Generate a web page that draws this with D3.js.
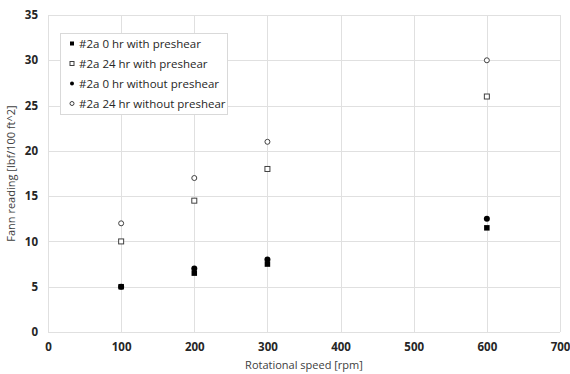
<!DOCTYPE html>
<html>
<head>
<meta charset="utf-8">
<script src="https://cdn.jsdelivr.net/npm/d3@7"></script>
<style>
  html, body { margin: 0; padding: 0; background: #fff; }
  svg { display: block; font-family: "Open Sans", "Noto Sans", sans-serif; }
</style>
</head>
<body>
<svg id="chart" width="570" height="374"></svg>
<script>
// Rotational speeds (rpm) at which the Fann readings were taken
const speeds = [100, 200, 300, 600];

// Fann readings (lbf/100 ft^2) for each test condition
const zeroHrPreshear = [5, 6.5, 7.5, 11.5];
const day24HrPreshear = [10, 14.5, 18, 26];
const zeroHrNoPreshear = [5, 7, 8, 12.5];
const day24HrNoPreshear = [12, 17, 21, 30];

const seriesNames = [
  "#2a 0 hr with preshear",
  "#2a 24 hr with preshear",
  "#2a 0 hr without preshear",
  "#2a 24 hr without preshear"
];

const xTicks = [0, 100, 200, 300, 400, 500, 600, 700];
const yTicks = [0, 5, 10, 15, 20, 25, 30, 35];

const xTitle = "Rotational speed [rpm]";
const yTitle = "Fann reading [lbf/100 ft^2]";

const series = [
  { name: seriesNames[0], values: zeroHrPreshear, shape: "square", fill: "#000" },
  { name: seriesNames[1], values: day24HrPreshear, shape: "square", fill: "#fff" },
  { name: seriesNames[2], values: zeroHrNoPreshear, shape: "circle", fill: "#000" },
  { name: seriesNames[3], values: day24HrNoPreshear, shape: "circle", fill: "#fff" }
];

const svg = d3.select("#chart");
const plot = { left: 48, right: 560, top: 15, bottom: 332 };

const x = d3.scaleLinear().domain([0, 700]).range([plot.left, plot.right]);
const y = d3.scaleLinear().domain([0, 35]).range([plot.bottom, plot.top]);

const gridColor = "#e0e0e0";

// Gridlines
svg.append("g")
  .selectAll("line.v")
  .data(xTicks)
  .join("line")
  .attr("x1", d => Math.round(x(d)) + 0.5)
  .attr("x2", d => Math.round(x(d)) + 0.5)
  .attr("y1", plot.top)
  .attr("y2", plot.bottom)
  .attr("stroke", gridColor)
  .attr("stroke-width", 1);

svg.append("g")
  .selectAll("line.h")
  .data(yTicks)
  .join("line")
  .attr("x1", plot.left)
  .attr("x2", plot.right)
  .attr("y1", d => Math.round(y(d)) + 0.5)
  .attr("y2", d => Math.round(y(d)) + 0.5)
  .attr("stroke", gridColor)
  .attr("stroke-width", 1);

// Axes (labels only; lines come from the grid)
const xAxis = svg.append("g")
  .attr("transform", `translate(0,${plot.bottom})`)
  .call(d3.axisBottom(x).tickValues(xTicks).tickSize(0).tickPadding(11));
const yAxis = svg.append("g")
  .attr("transform", `translate(${plot.left},0)`)
  .call(d3.axisLeft(y).tickValues(yTicks).tickSize(0).tickPadding(10));

[xAxis, yAxis].forEach(g => {
  g.select(".domain").remove();
  g.selectAll("text")
    .attr("font-family", "'Open Sans', 'Noto Sans', sans-serif")
    .attr("font-size", 11.5)
    .attr("font-weight", "bold")
    .attr("fill", "#262626");
});

// Axis titles
svg.append("text")
  .attr("x", (plot.left + plot.right) / 2)
  .attr("y", 369)
  .attr("text-anchor", "middle")
  .attr("font-size", 11)
  .attr("fill", "#404040")
  .text(xTitle);

svg.append("text")
  .attr("transform", `translate(15,${(plot.top + plot.bottom) / 2}) rotate(-90)`)
  .attr("text-anchor", "middle")
  .attr("font-size", 11)
  .attr("fill", "#404040")
  .text(yTitle);

// Marker drawing helper
function drawMarker(g, shape, fill, cx, cy, size) {
  if (shape === "square") {
    g.append("rect")
      .attr("x", cx - size / 2)
      .attr("y", cy - size / 2)
      .attr("width", size)
      .attr("height", size)
      .attr("fill", fill)
      .attr("stroke", fill === "#000" ? "none" : "#404040")
      .attr("stroke-width", 1);
  } else {
    g.append("circle")
      .attr("cx", cx)
      .attr("cy", cy)
      .attr("r", size / 2)
      .attr("fill", fill)
      .attr("stroke", fill === "#000" ? "none" : "#404040")
      .attr("stroke-width", 1);
  }
}

// Data points
series.forEach(s => {
  const g = svg.append("g");
  s.values.forEach((v, i) => {
    const size = s.fill === "#000" ? (s.shape === "circle" ? 6 : 5.5) : 5;
    drawMarker(g, s.shape, s.fill, x(speeds[i]), y(v), size);
  });
});

// Legend
const legend = svg.append("g");
legend.append("rect")
  .attr("x", 60.5)
  .attr("y", 33.5)
  .attr("width", 167)
  .attr("height", 81)
  .attr("fill", "#fff")
  .attr("stroke", "#d9d9d9");

series.forEach((s, i) => {
  const cy = 43.5 + i * 20;
  const size = s.fill === "#000" ? 4 : 4;
  drawMarker(legend, s.shape, s.fill, 72, cy, size);
  legend.append("text")
    .attr("x", 79)
    .attr("y", cy)
    .attr("dy", "0.35em")
    .attr("font-size", 11.5)
    .attr("fill", "#262626")
    .text(s.name);
});
</script>
</body>
</html>
